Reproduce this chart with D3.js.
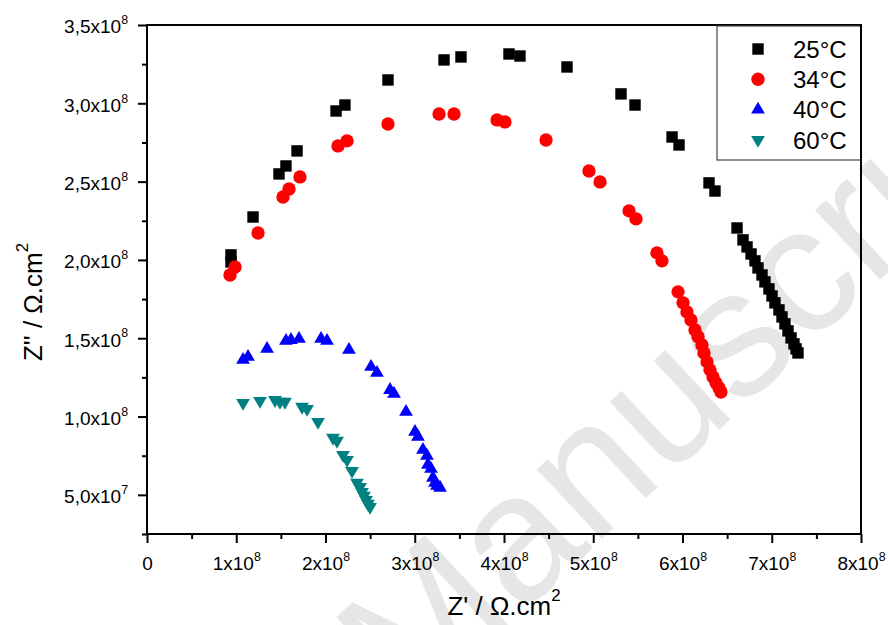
<!DOCTYPE html>
<html>
<head>
<meta charset="utf-8">
<script src="https://cdn.jsdelivr.net/npm/d3@7"></script>
<style>
  body { margin: 0; background: #fff; }
  text { font-family: Arial, "Liberation Sans", sans-serif; }
</style>
</head>
<body>
<div id="chart"></div>
<script>
// impedance data, both axes in units of 1e8 Ω.cm²
const zRe25 = [0.941,0.941,1.188,1.479,1.557,1.681,2.118,2.218,2.700,3.328,3.518,4.056,4.179,4.706,5.311,5.468,5.883,5.961,6.297,6.364,6.611,6.678,6.723,6.768,6.812,6.846,6.891,6.924,6.969,7.003,7.036,7.081,7.115,7.148,7.182,7.216,7.249,7.272,7.294];
const zIm25 = [2.032,1.987,2.274,2.549,2.600,2.696,2.951,2.989,3.149,3.277,3.296,3.315,3.302,3.232,3.060,2.989,2.785,2.734,2.492,2.440,2.204,2.128,2.083,2.038,1.994,1.949,1.904,1.860,1.815,1.770,1.726,1.681,1.636,1.592,1.547,1.502,1.464,1.432,1.406];

const zRe34 = [0.930,0.986,1.244,1.524,1.591,1.714,2.140,2.241,2.700,3.272,3.440,3.922,4.011,4.471,4.952,5.076,5.401,5.479,5.714,5.770,5.950,6.006,6.050,6.095,6.140,6.174,6.218,6.241,6.275,6.308,6.342,6.375,6.409,6.431];
const zIm34 = [1.904,1.955,2.172,2.402,2.453,2.530,2.728,2.760,2.868,2.932,2.932,2.894,2.881,2.766,2.568,2.498,2.313,2.262,2.045,1.994,1.796,1.726,1.668,1.617,1.553,1.509,1.457,1.406,1.349,1.298,1.253,1.215,1.183,1.157];

const zRe40 = [1.076,1.132,1.345,1.557,1.613,1.703,1.950,2.017,2.263,2.510,2.577,2.723,2.768,2.902,3.003,3.036,3.092,3.137,3.148,3.182,3.204,3.227,3.249,3.283];
const zIm40 = [1.362,1.381,1.432,1.483,1.489,1.496,1.496,1.483,1.426,1.317,1.279,1.170,1.145,1.030,0.902,0.870,0.787,0.749,0.692,0.666,0.609,0.577,0.558,0.545];

const zRe60 = [1.076,1.266,1.434,1.490,1.546,1.737,1.793,1.916,2.084,2.129,2.196,2.241,2.297,2.353,2.387,2.409,2.431,2.454,2.476,2.499];
const zIm60 = [1.087,1.100,1.106,1.094,1.094,1.062,1.049,0.966,0.864,0.845,0.755,0.723,0.653,0.577,0.551,0.519,0.494,0.468,0.443,0.423];

const seriesNames = ['25°C', '34°C', '40°C', '60°C'];
const xTicks = [0, 1, 2, 3, 4, 5, 6, 7, 8];
const xMinor = [0.5, 1.5, 2.5, 3.5, 4.5, 5.5, 6.5, 7.5];
const yTicks = [0.5, 1.0, 1.5, 2.0, 2.5, 3.0, 3.5];
const yMinor = [0.25, 0.75, 1.25, 1.75, 2.25, 2.75, 3.25];

const width = 888, height = 625;
const margin = { top: 25, right: 27, bottom: 91, left: 147 };

const colors = ['#000000', '#ff0000', '#0000ff', '#008080'];
const shapes = [
  { type: d3.symbolSquare, size: 130, rot: 0 },
  { type: d3.symbolCircle, size: 140, rot: 0 },
  { type: d3.symbolTriangle, size: 82, rot: 0 },
  { type: d3.symbolTriangle, size: 82, rot: 180 }
];

const series = [
  { re: zRe25, im: zIm25 },
  { re: zRe34, im: zIm34 },
  { re: zRe40, im: zIm40 },
  { re: zRe60, im: zIm60 }
];

const svg = d3.select('#chart').append('svg')
  .attr('width', width)
  .attr('height', height);

const x = d3.scaleLinear().domain([0, 8]).range([margin.left, width - margin.right]);
const y = d3.scaleLinear().domain([0.25, 3.5]).range([height - margin.bottom, margin.top]);

// watermark
const wm = svg.append('g')
  .attr('transform', 'translate(410,718) rotate(-43)');
wm.append('text')
  .attr('font-size', 180)
  .attr('fill', '#e6e6e6')
  .attr('text-anchor', 'end')
  .text('Accepted ');
wm.append('text')
  .attr('font-size', 180)
  .attr('fill', '#e6e6e6')
  .text('Manuscript');

// tick labels with superscript exponent
function sciLabel(sel, v, isY) {
  sel.text(null);
  if (v === 0) { sel.append('tspan').text('0'); return; }
  let mant, exp;
  if (isY) {
    if (v < 1) { mant = (v * 10).toFixed(1); exp = '7'; }
    else { mant = v.toFixed(1); exp = '8'; }
    mant = mant.replace('.', ',');
  } else {
    mant = String(v); exp = '8';
  }
  sel.append('tspan').text(mant + 'x10');
  sel.append('tspan').attr('font-size', '0.65em').attr('dy', '-0.75em').text(exp);
}

// x axis
const gx = svg.append('g')
  .attr('transform', `translate(0,${y(0.25)})`)
  .call(d3.axisBottom(x).tickValues(xTicks).tickSize(9).tickSizeOuter(0).tickPadding(14));
gx.select('.domain').remove();
gx.selectAll('.tick line').attr('stroke', '#000').attr('stroke-width', 2);
gx.selectAll('.tick text')
  .attr('font-size', 19)
  .attr('fill', '#000')
  .each(function(d) { sciLabel(d3.select(this), d, false); });

svg.append('g')
  .attr('transform', `translate(0,${y(0.25)})`)
  .call(d3.axisBottom(x).tickValues(xMinor).tickSize(5).tickSizeOuter(0).tickFormat(''))
  .call(g => g.select('.domain').remove())
  .selectAll('.tick line').attr('stroke', '#000').attr('stroke-width', 2);

// y axis
const gy = svg.append('g')
  .attr('transform', `translate(${x(0)},0)`)
  .call(d3.axisLeft(y).tickValues(yTicks).tickSize(9).tickSizeOuter(0).tickPadding(10));
gy.select('.domain').remove();
gy.selectAll('.tick line').attr('stroke', '#000').attr('stroke-width', 2);
gy.selectAll('.tick text')
  .attr('font-size', 19)
  .attr('fill', '#000')
  .attr('dy', '0.42em')
  .each(function(d) { sciLabel(d3.select(this), d, true); });

svg.append('g')
  .attr('transform', `translate(${x(0)},0)`)
  .call(d3.axisLeft(y).tickValues(yMinor).tickSize(5).tickSizeOuter(0).tickFormat(''))
  .call(g => g.select('.domain').remove())
  .selectAll('.tick line').attr('stroke', '#000').attr('stroke-width', 2);

// frame
svg.append('rect')
  .attr('x', x(0))
  .attr('y', y(3.5))
  .attr('width', x(8) - x(0))
  .attr('height', y(0.25) - y(3.5))
  .attr('fill', 'none')
  .attr('stroke', '#000')
  .attr('stroke-width', 2);

// data points
series.forEach((s, i) => {
  const pts = s.re.map((r, j) => [r, s.im[j]]);
  svg.append('g').selectAll('path').data(pts)
    .join('path')
    .attr('d', d3.symbol().type(shapes[i].type).size(shapes[i].size))
    .attr('transform', d => `translate(${x(d[0])},${y(d[1])}) rotate(${shapes[i].rot})`)
    .attr('fill', colors[i]);
});

// axis titles
const xt = svg.append('text')
  .attr('x', (x(0) + x(8)) / 2)
  .attr('y', 615)
  .attr('text-anchor', 'middle')
  .attr('font-size', 26);
xt.append('tspan').text("Z' / Ω.cm");
xt.append('tspan').attr('font-size', '0.65em').attr('dy', '-0.8em').text('2');

const yt = svg.append('text')
  .attr('transform', 'translate(42,302) rotate(-90)')
  .attr('text-anchor', 'middle')
  .attr('font-size', 26);
yt.append('tspan').text("Z'' / Ω.cm");
yt.append('tspan').attr('font-size', '0.65em').attr('dy', '-0.8em').text('2');

// legend
const lg = svg.append('g');
lg.append('rect')
  .attr('x', 717).attr('y', 26)
  .attr('width', 144).attr('height', 134)
  .attr('fill', '#fff')
  .attr('stroke', '#444')
  .attr('stroke-width', 1.2);
seriesNames.forEach((name, i) => {
  const cy = 49 + i * 30.3;
  lg.append('path')
    .attr('d', d3.symbol().type(shapes[i].type).size(shapes[i].size)())
    .attr('transform', `translate(758,${cy}) rotate(${shapes[i].rot})`)
    .attr('fill', colors[i]);
  lg.append('text')
    .attr('x', 793).attr('y', cy)
    .attr('dy', '0.36em')
    .attr('font-size', 24)
    .text(name);
});
// redraw right frame edge over legend
svg.append('line')
  .attr('x1', x(8)).attr('x2', x(8))
  .attr('y1', y(3.5) - 1).attr('y2', y(0.25) + 1)
  .attr('stroke', '#000').attr('stroke-width', 2);
</script>
</body>
</html>
